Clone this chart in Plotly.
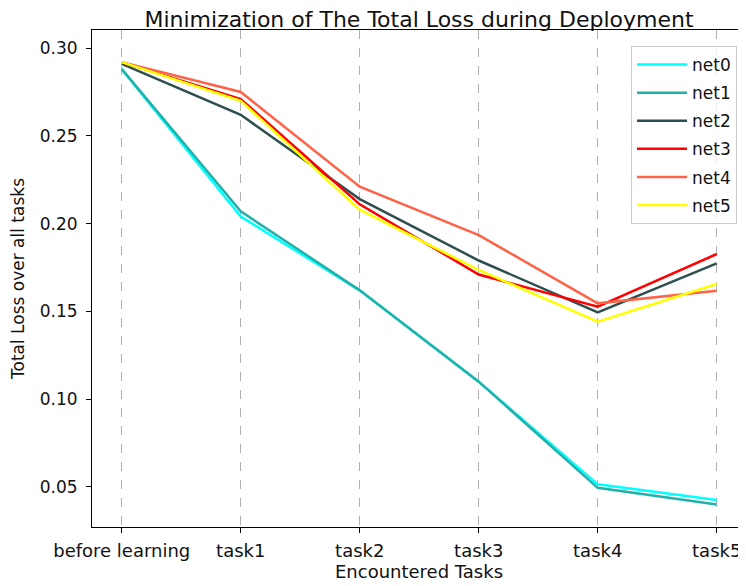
import plotly.graph_objects as go

categories = ["before learning", "task1", "task2", "task3", "task4", "task5"]
net0 = [0.288, 0.204, 0.162, 0.110, 0.0515, 0.0426]
net1 = [0.288, 0.207, 0.162, 0.110, 0.0495, 0.0400]
net2 = [0.291, 0.262, 0.214, 0.179, 0.1495, 0.1774]
net3 = [0.292, 0.271, 0.211, 0.171, 0.1527, 0.1827]
net4 = [0.292, 0.275, 0.221, 0.1935, 0.1546, 0.1618]
net5 = [0.292, 0.270, 0.208, 0.1736, 0.1441, 0.1656]
series_names = ["net0", "net1", "net2", "net3", "net4", "net5"]
series_values = [net0, net1, net2, net3, net4, net5]
colors = ["#00FFFF", "#20B2AA", "#2F4F4F", "#FF0000", "#FF6347", "#FFFF00"]
y_ticks = [0.05, 0.10, 0.15, 0.20, 0.25, 0.30]

font = "DejaVu Sans"
txt = "#111111"
# page body adds an 8px offset; figure sized to fit the window
W, H = 738, 578
L, R, T, B = 84, 0, 22, 59

fig = go.Figure()
xs = list(range(len(categories)))
for i, (name, vals) in enumerate(zip(series_names, series_values)):
    fig.add_trace(go.Scatter(x=xs, y=vals, mode="lines", name=name,
                             legendgroup=name,
                             line=dict(color=colors[i], width=2.5)))

fig.update_layout(
    width=W, height=H,
    paper_bgcolor="white", plot_bgcolor="white",
    margin=dict(l=L, r=R, t=T, b=B, pad=0),
    font=dict(family=font, size=17, color=txt),
    title=dict(text="Minimization of The Total Loss during Deployment",
               xref="paper", x=0.5, xanchor="center",
               yref="container", y=1 - 11 / H, yanchor="middle",
               font=dict(size=22, family=font, color=txt)),
    showlegend=True,
    legend=dict(x=(729 - L) / (W - L - R), xanchor="right",
                y=1 - (38 - T) / (H - T - B), yanchor="top",
                bgcolor="rgba(255,255,255,0.8)", bordercolor="#cccccc", borderwidth=1,
                font=dict(size=17, family=font, color=txt), tracegroupgap=3,
                itemwidth=50),
)
fig.update_xaxes(
    range=[-0.25, 5.246], tickmode="array", tickvals=xs, ticktext=categories,
    showgrid=True, gridcolor="#b0b0b0", griddash="dash", gridwidth=1,
    showline=True, linecolor="black", linewidth=1, mirror=True,
    ticks="outside", ticklen=5, tickcolor="black", zeroline=False,
    tickfont=dict(size=18, family=font, color=txt), ticklabelstandoff=2,
    automargin=False,
    title=dict(text="Encountered Tasks", font=dict(size=18, family=font, color=txt), standoff=3),
)
fig.update_yaxes(
    range=[0.0272, 0.3103], tickmode="array", tickvals=y_ticks,
    ticktext=[f"{v:.2f}" for v in y_ticks],
    showgrid=False, showline=True, linecolor="black", linewidth=1, mirror=True,
    ticks="outside", ticklen=5, tickcolor="black", zeroline=False,
    tickfont=dict(size=17, family=font, color=txt), ticklabelstandoff=5,
    automargin=False,
    title=dict(text="Total Loss over all tasks", font=dict(size=17, family=font, color=txt), standoff=10),
)
fig.write_html("out.html")
